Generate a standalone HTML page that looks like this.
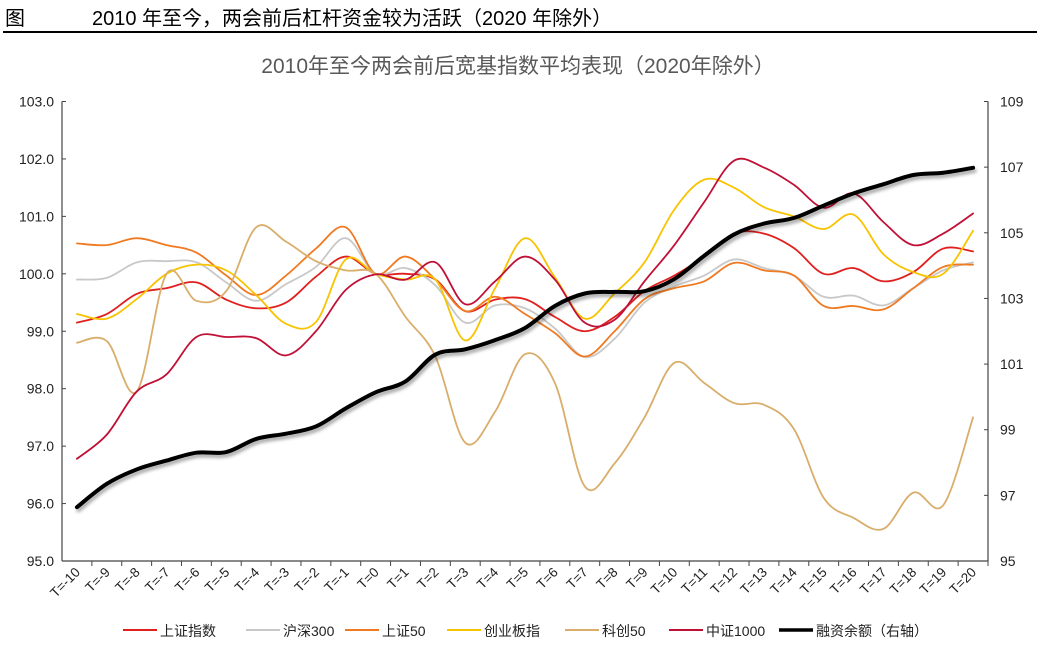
<!DOCTYPE html>
<html><head><meta charset="utf-8">
<style>
body{margin:0;background:#fff;}
svg text{font-family:"Liberation Sans","Noto Sans CJK SC",sans-serif;}
</style></head>
<body>
<svg id="chart" width="1043" height="654" viewBox="0 0 1043 654" xmlns="http://www.w3.org/2000/svg">
<text x="5" y="25" font-size="20" fill="#000">图</text>
<text x="92" y="25" font-size="20" fill="#000">2010 年至今，两会前后杠杆资金较为活跃（2020 年除外）</text>
<rect x="3" y="31" width="1034" height="2" fill="#000"/>
<text x="518" y="73" font-size="21" fill="#595959" text-anchor="middle">2010年至今两会前后宽基指数平均表现（2020年除外）</text>
<g id="axes"></g>
<g id="series"></g>
<g id="legend"></g>
</svg>
<script>
const categories=[];for(let k=-10;k<=20;k++)categories.push('T='+k);
const leftTicks=[95,96,97,98,99,100,101,102,103];
const rightTicks=[95,97,99,101,103,105,107,109];
const szzs=[99.15,99.3,99.65,99.75,99.85,99.55,99.4,99.5,99.95,100.3,100,100,99.9,99.35,99.55,99.56,99.25,99.0,99.25,99.7,99.97,100.3,100.7,100.7,100.45,100.0,100.1,99.87,100.03,100.44,100.39];
const hs300=[99.9,99.93,100.2,100.22,100.2,99.85,99.53,99.82,100.12,100.62,100,100.1,99.8,99.15,99.45,99.4,99.05,98.55,98.87,99.5,99.78,99.97,100.25,100.1,99.97,99.6,99.62,99.45,99.75,100.06,100.2];
const sz50=[100.53,100.5,100.62,100.5,100.37,99.97,99.63,99.97,100.44,100.81,100,100.3,99.9,99.35,99.6,99.3,98.97,98.56,99.0,99.56,99.75,99.87,100.19,100.06,99.97,99.44,99.44,99.38,99.75,100.12,100.16];
const cyb=[99.3,99.22,99.56,100,100.16,100.06,99.63,99.13,99.16,100.25,100,99.9,99.9,98.84,99.75,100.62,99.94,99.22,99.66,100.2,101.12,101.64,101.5,101.16,101.0,100.78,101.03,100.34,100.03,100,100.75];
const kc50=[98.8,98.83,97.95,100.0,99.53,99.7,100.81,100.56,100.22,100.06,100,99.25,98.56,97.06,97.6,98.6,98.1,96.3,96.7,97.5,98.45,98.1,97.75,97.72,97.3,96.1,95.75,95.56,96.19,95.97,97.5];
const zz1000=[96.78,97.2,97.95,98.25,98.9,98.9,98.88,98.58,99.0,99.72,99.99,99.9,100.2,99.47,99.87,100.3,99.9,99.15,99.2,99.87,100.5,101.25,101.97,101.85,101.55,101.15,101.4,100.9,100.5,100.7,101.05];
const margin=[96.64,97.35,97.79,98.06,98.3,98.32,98.72,98.88,99.1,99.65,100.14,100.47,101.29,101.45,101.73,102.1,102.77,103.15,103.2,103.22,103.59,104.3,104.95,105.28,105.45,105.83,106.2,106.48,106.76,106.83,106.98];

const NS='http://www.w3.org/2000/svg';
const X0=62,X1=988,YT=101.5,YB=561;
const bw=(X1-X0)/categories.length;
const xs=i=>X0+bw*(i+0.5);
const yL=v=>YB-(v-95)/8*(YB-YT);
const yR=v=>YB-(v-95)/14*(YB-YT);
function mk(tag,attrs,parent){const e=document.createElementNS(NS,tag);for(const k in attrs)e.setAttribute(k,attrs[k]);parent.appendChild(e);return e;}
const axes=document.getElementById('axes');
let e;
e=mk('line',{x1:X0,y1:YT,x2:X0,y2:YB,stroke:'#444','stroke-width':1.2},axes);


e=mk('line',{x1:X1,y1:YT,x2:X1,y2:YB,stroke:'#444','stroke-width':1.2},axes);


e=mk('line',{x1:X0,y1:YB,x2:X1,y2:YB,stroke:'#444','stroke-width':1.2},axes);


leftTicks.forEach(v=>{
  mk('line',{x1:X0,y1:yL(v),x2:X0+4,y2:yL(v),stroke:'#444'},axes);
  const t=mk('text',{x:X0-8,y:yL(v)+5,'font-size':14,'text-anchor':'end',fill:'#222'},axes);
  t.textContent=v.toFixed(1);
  
  
});
rightTicks.forEach(v=>{
  mk('line',{x1:X1-4,y1:yR(v),x2:X1,y2:yR(v),stroke:'#444'},axes);
  const t=mk('text',{x:X1+12,y:yR(v)+5,'font-size':14,fill:'#222'},axes);
  t.textContent=String(v);
  
  
});
categories.forEach((c,i)=>{
  const bx=X0+bw*(i+1);
  mk('line',{x1:bx,y1:YB,x2:bx,y2:YB+5,stroke:'#444'},axes);
  const cx=xs(i)+4,cy=YB+12;
  const t=mk('text',{x:cx,y:cy,'font-size':13.5,'text-anchor':'end',fill:'#222',transform:`rotate(-45 ${cx} ${cy})`},axes);
  t.textContent=c;
  
  
});
function smooth(pts){
  let d=`M${pts[0][0]},${pts[0][1]}`;
  for(let i=0;i<pts.length-1;i++){
    const p0=pts[i-1]||pts[i],p1=pts[i],p2=pts[i+1],p3=pts[i+2]||p2;
    const t=0.17;
    d+=` C${p1[0]+(p2[0]-p0[0])*t},${p1[1]+(p2[1]-p0[1])*t} ${p2[0]-(p3[0]-p1[0])*t},${p2[1]-(p3[1]-p1[1])*t} ${p2[0]},${p2[1]}`;
  }
  return d;
}
const sg=document.getElementById('series');
const defs=mk('defs',{},sg);
const f=mk('filter',{id:'sh',x:'-5%',y:'-5%',width:'110%',height:'120%'},defs);
mk('feDropShadow',{dx:1.5,dy:3,stdDeviation:1.5,'flood-color':'#000','flood-opacity':0.35},f);
const series=[
  {name:'上证指数',key:'series-szzs',data:szzs,color:'#e0201e',w:1.8,ax:yL},
  {name:'沪深300',key:'series-hs300',data:hs300,color:'#c8c8c8',w:1.8,ax:yL},
  {name:'上证50',key:'series-sz50',data:sz50,color:'#f07a22',w:1.8,ax:yL},
  {name:'创业板指',key:'series-cyb',data:cyb,color:'#f8c300',w:1.8,ax:yL},
  {name:'科创50',key:'series-kc50',data:kc50,color:'#d9ad6a',w:1.8,ax:yL},
  {name:'中证1000',key:'series-zz1000',data:zz1000,color:'#c01036',w:1.8,ax:yL},
  {name:'融资余额（右轴）',key:'series-margin',data:margin,color:'#000',w:4,ax:yR}
];
series.forEach(s=>{
  const pts=s.data.map((v,i)=>[xs(i),s.ax(v)]);
  const p=mk('path',{d:smooth(pts),fill:'none',stroke:s.color,'stroke-width':s.w,'stroke-linejoin':'round','stroke-linecap':'round'},sg);
  if(s.w>3)p.setAttribute('filter','url(#sh)');
  
  
});
const lg=document.getElementById('legend');
const lx=[123,246,345,447,565,669,779];
series.forEach((s,i)=>{
  const g=mk('g',{},lg);
  
  
  mk('line',{x1:lx[i],y1:630,x2:lx[i]+34,y2:630,stroke:s.color,'stroke-width':s.w>3?3.5:2},g);
  const t=mk('text',{x:lx[i]+37,y:636,'font-size':14,fill:'#222'},g);
  t.textContent=s.name;
});
</script>
</body></html>
